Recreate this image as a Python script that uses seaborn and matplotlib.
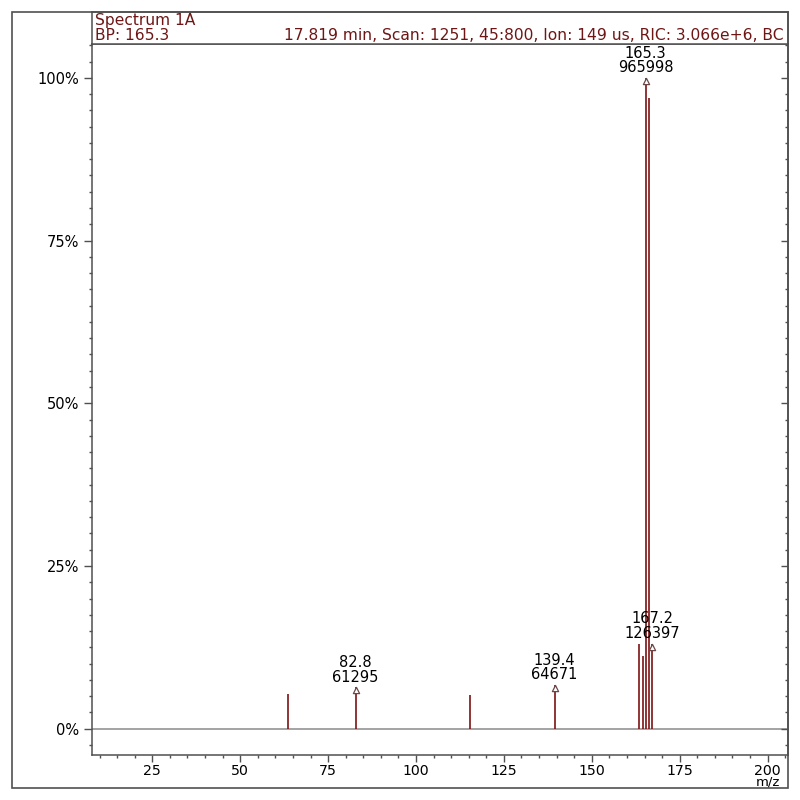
import matplotlib
matplotlib.use("Agg")
import matplotlib.pyplot as plt
import matplotlib.transforms as mtrans
from matplotlib.ticker import MultipleLocator, FuncFormatter
import numpy as np
import pandas as pd
import seaborn as sns

# peaks (m/z, abundance)
mz = [63.5, 82.8, 115.4, 139.4, 163.5, 164.5, 165.3, 166.3, 167.2]
counts = [52200, 61295, 49300, 64671, 125600, 108200, 965998, 935500, 126397]
labeled_mz = [82.8, 139.4, 165.3, 167.2]
base_peak = 965998

header_title = "Spectrum 1A"
header_bp = "BP: 165.3"
header_info = "17.819 min, Scan: 1251, 45:800, Ion: 149 us, RIC: 3.066e+6, BC"

peak_col = "#7d1212"
text_col = "#6e1616"
frame_col = "#505050"

df = pd.DataFrame({"mz": mz, "counts": counts})
df["pct"] = df["counts"] / base_peak * 100
lab = df[df["mz"].isin(labeled_mz)]

sns.set_theme(style="ticks")
plt.rcParams["font.family"] = ["DejaVu Sans"]

fig = plt.figure(figsize=(8, 8), dpi=100)
ax = fig.add_axes([0.115, 0.05625, 0.87, 0.88875])

ax.set_xlim(7.85, 205.8)
ax.set_ylim(-4.04, 105.2)

# baseline
ax.axhline(0, color="#8a8a8a", lw=1.1, zorder=1)
# stems
ax.vlines(df["mz"], 0, df["pct"], color=peak_col, lw=1.2, zorder=2)

# open arrow heads on labelled peaks
arr_tr = mtrans.offset_copy(ax.transData, fig=fig, x=0, y=-3, units="dots")
sns.scatterplot(data=lab, x="mz", y="pct", marker="^", s=20, facecolor="white",
                edgecolor="#6a4848", linewidth=0.9, ax=ax, zorder=3,
                transform=arr_tr, legend=False)

for _, r in lab.iterrows():
    ax.annotate(f"{r['mz']:.1f}\n{int(r['counts'])}", xy=(r["mz"], r["pct"]),
                xytext=(0, 2), textcoords="offset points", ha="center", va="bottom",
                fontsize=10.5, color="black", linespacing=0.95, zorder=4)

ax.xaxis.set_major_locator(MultipleLocator(25))
ax.xaxis.set_minor_locator(MultipleLocator(5))
ax.yaxis.set_major_locator(MultipleLocator(25))
ax.yaxis.set_minor_locator(MultipleLocator(2.5))
ax.yaxis.set_major_formatter(FuncFormatter(lambda v, p: f"{v:.0f}%"))
ax.set_xlabel("")
ax.set_ylabel("")

ax.tick_params(axis="x", which="major", direction="out", length=5, width=1,
               pad=1.5, labelsize=10.2, color=frame_col, labelcolor="black")
ax.tick_params(axis="x", which="minor", direction="out", length=2.2, width=1,
               color=frame_col)
ax.tick_params(axis="y", which="major", direction="out", length=6, width=1,
               pad=3, labelsize=10.5, color=frame_col, labelcolor="black")
ax.tick_params(axis="y", which="minor", direction="out", length=2.2, width=1,
               color=frame_col)
for s in ax.spines.values():
    s.set_color(frame_col)
    s.set_linewidth(1.1)

# inward ticks on the right edge
tw = ax.twinx()
tw.set_ylim(ax.get_ylim())
tw.yaxis.set_major_locator(MultipleLocator(25))
tw.yaxis.set_minor_locator(MultipleLocator(2.5))
tw.tick_params(axis="y", which="major", direction="in", length=5, width=1,
               labelright=False, color=frame_col)
tw.tick_params(axis="y", which="minor", direction="in", length=2.2, width=1,
               color=frame_col)
for s in tw.spines.values():
    s.set_visible(False)

ax.annotate("m/z", xy=(200, 0), xycoords=("data", "axes fraction"),
            xytext=(0, -14.8), textcoords="offset points", ha="center", va="top",
            fontsize=9.5, color="black")

# header box
hx = fig.add_axes([0.115, 0.945, 0.87, 0.04])
hx.set_xticks([])
hx.set_yticks([])
hx.set_facecolor("white")
for s in hx.spines.values():
    s.set_color(frame_col)
    s.set_linewidth(1.1)
hx.text(0.004, 0.73, header_title, transform=hx.transAxes, ha="left", va="center",
        fontsize=11.2, color=text_col)
hx.text(0.004, 0.26, header_bp, transform=hx.transAxes, ha="left", va="center",
        fontsize=11.2, color=text_col)
hx.text(0.993, 0.26, header_info, transform=hx.transAxes, ha="right", va="center",
        fontsize=11.2, color=text_col)

# outer frame
fig.add_artist(plt.Rectangle((0.015, 0.015), 0.97, 0.97, fill=False,
                             transform=fig.transFigure, ec=frame_col, lw=1.2))

fig.savefig("out.png", dpi=100, facecolor="white")
